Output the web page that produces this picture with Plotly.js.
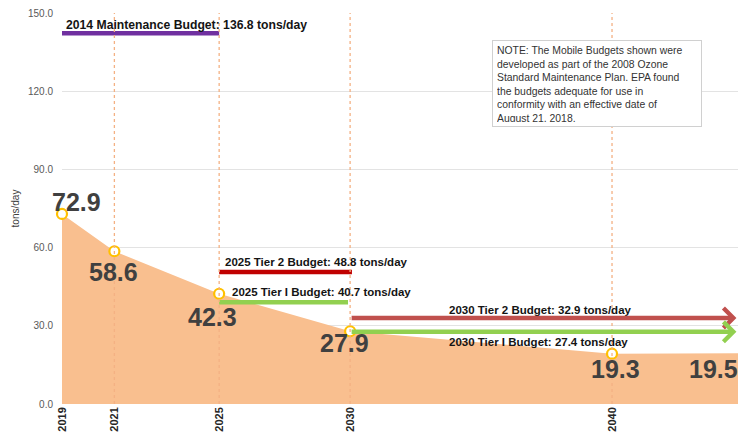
<!DOCTYPE html>
<html><head><meta charset="utf-8">
<script src="https://cdn.plot.ly/plotly-3.0.1.min.js"></script>
<style>html,body{margin:0;padding:0;background:#fff}#chart{width:738px;height:437px}</style>
</head><body><div id="chart"></div>
<script>
// ---- data ----
const years = [2019, 2021, 2025, 2030, 2040, 2045];
const emissions = [72.9, 58.6, 42.3, 27.9, 19.3, 19.5];
const tickYears = [2019, 2021, 2025, 2030, 2040];
const tickLabels = ['2019', '2021', '2025', '2030', '2040'];
const yTicks = [0, 30, 60, 90, 120, 150];

const budgetNames = ['2014 Maintenance Budget', '2025 Tier 2 Budget', '2025 Tier I Budget', '2030 Tier 2 Budget', '2030 Tier I Budget'];
const budgetValues = [136.8, 48.8, 40.7, 32.9, 27.4];
// level at which each budget bar is drawn in the picture
const budgetLevels = [142.2, 50.6, 39.0, 33.0, 27.7];
const budgetStart = [2019, 2025, 2025, 2030, 2030];
const budgetEnd = [2025, 2030.07, 2029.92, 2044.75, 2044.75];

const noteText = 'NOTE: The Mobile Budgets shown were<br>developed as part of the 2008 Ozone<br>Standard Maintenance Plan. EPA found<br>the budgets adequate for use in<br>conformity with an effective date of<br>August 21, 2018.';

// ---- styles / placement ----
const xRange = [2019, 2044.81];
const budgetColors = ['#7030A0', '#C00000', '#92D050', '#C0504D', '#92D050'];
const budgetArrow = [false, false, false, true, true];
const budgetLabelPos = [[2019.08, 145.4], [2025.15, 54.3], [2025.41, 42.8], [2033.70, 36.1], [2033.70, 23.8]];
const budgetLabelSize = [12.2, 11.5, 11.5, 11.5, 11.5];
const valueShift = [[14, 12], [-1, -21], [-7, -23], [-6, -12], [3, -15], [-29, -16]];
const FONT = 'Liberation Sans, Arial, sans-serif';

const traces = [];
traces.push({
  x: years, y: emissions, type: 'scatter', mode: 'lines',
  fill: 'tozeroy', fillcolor: '#F9BF8F', line: {width: 0, color: '#F9BF8F'},
  hoverinfo: 'skip'
});
budgetNames.forEach((n, i) => {
  if (budgetArrow[i]) return;
  traces.push({
    x: [budgetStart[i], budgetEnd[i]], y: [budgetLevels[i], budgetLevels[i]],
    type: 'scatter', mode: 'lines', line: {color: budgetColors[i], width: 4.5},
    cliponaxis: false, hoverinfo: 'skip'
  });
});
traces.push({
  x: years, y: emissions, type: 'scatter', mode: 'markers', cliponaxis: false,
  marker: {symbol: 'circle', size: 10, color: '#FFFFFF', line: {color: '#FFC000', width: 2.2}},
  hoverinfo: 'skip'
});

const shapes = tickYears.slice(1).map(yr => ({
  type: 'line', xref: 'x', yref: 'y', x0: yr, x1: yr, y0: 0, y1: 150, layer: 'above',
  line: {color: '#F4B183', width: 1.3, dash: '3px,3px'}
}));

const annotations = [];
years.forEach((yr, i) => {
  const inside = yr <= xRange[1];
  annotations.push({
    x: inside ? yr : (yr - xRange[0]) / (xRange[1] - xRange[0]),
    xref: inside ? 'x' : 'paper',
    y: emissions[i], yref: 'y', text: emissions[i].toFixed(1),
    showarrow: false, xshift: valueShift[i][0], yshift: valueShift[i][1],
    xanchor: 'center', yanchor: 'middle',
    font: {family: FONT, size: 25, weight: 700, color: '#404040'}
  });
});
budgetNames.forEach((n, i) => {
  annotations.push({
    x: budgetLabelPos[i][0], y: budgetLabelPos[i][1], xref: 'x', yref: 'y',
    text: n + ': ' + budgetValues[i].toFixed(1) + ' tons/day', showarrow: false,
    xanchor: 'left', yanchor: 'middle',
    font: {family: FONT, size: budgetLabelSize[i], weight: 700, color: '#141414'}
  });
  if (budgetArrow[i]) {
    annotations.push({
      x: budgetEnd[i], y: budgetLevels[i], xref: 'x', yref: 'y',
      ax: budgetStart[i], ay: budgetLevels[i], axref: 'x', ayref: 'y',
      text: '', showarrow: true, arrowhead: 4, arrowsize: 0.85, arrowwidth: 4.5,
      arrowcolor: budgetColors[i], standoff: 0, startstandoff: 0
    });
  }
});
annotations.push({
  xref: 'paper', yref: 'paper', x: 0.636, y: 0.931, xanchor: 'left', yanchor: 'top',
  text: noteText, showarrow: false, align: 'left', valign: 'top',
  width: 200, height: 77, borderpad: 4, borderwidth: 1, bordercolor: '#D0D0D0', bgcolor: '#FFFFFF',
  font: {family: FONT, size: 10.4, color: '#333333'}
});

const layout = {
  width: 738, height: 437,
  margin: {l: 62, r: 0, t: 13, b: 33},
  paper_bgcolor: '#FFFFFF', plot_bgcolor: '#FFFFFF',
  showlegend: false,
  xaxis: {
    range: xRange, tickvals: tickYears, ticktext: tickLabels, tickangle: -90,
    showgrid: false, zeroline: false, showline: false, ticks: '',
    tickfont: {family: FONT, size: 11, weight: 700, color: '#262626'}
  },
  yaxis: {
    range: [0, 150], tickvals: yTicks, tickformat: '.1f',
    showgrid: true, gridcolor: '#E3E3E3', gridwidth: 1, zeroline: false, showline: false, ticks: '',
    ticklabelstandoff: 8,
    tickfont: {family: FONT, size: 10, color: '#595959'},
    title: {text: 'tons/day', standoff: 6, font: {family: FONT, size: 10, color: '#404040'}}
  },
  shapes: shapes,
  annotations: annotations
};

Plotly.newPlot('chart', traces, layout, {staticPlot: true, displayModeBar: false});
</script>
</body></html>
